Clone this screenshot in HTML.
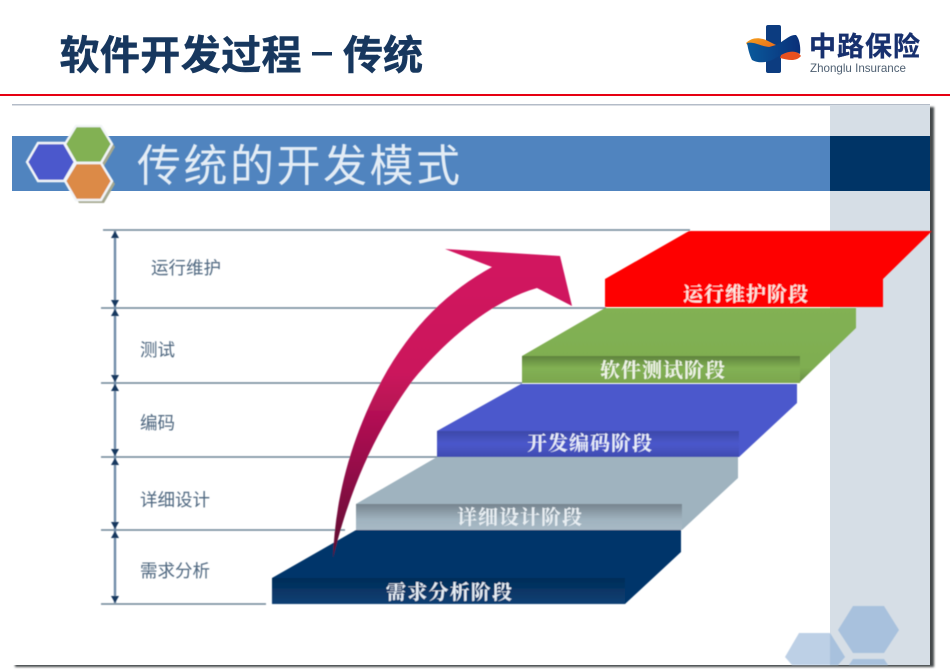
<!DOCTYPE html>
<html lang="zh">
<head>
<meta charset="utf-8">
<title>软件开发过程 – 传统</title>
<style>
html,body{margin:0;padding:0;background:#fff;width:950px;height:672px;overflow:hidden}
svg{display:block}
text{font-family:"Liberation Sans","Noto Sans CJK SC",sans-serif}
.serif text{font-family:"Liberation Serif","Noto Serif CJK SC",serif}
</style>
</head>
<body>
<svg xmlns="http://www.w3.org/2000/svg" width="950" height="672" viewBox="0 0 950 672">
<defs>
<filter id="soft" x="-2%" y="-2%" width="104%" height="104%"><feGaussianBlur stdDeviation="0.45"/></filter>
<filter id="sh" x="-5%" y="-5%" width="110%" height="110%"><feGaussianBlur stdDeviation="1.1"/></filter>
<linearGradient id="gGreen" x1="0" y1="0" x2="0" y2="1"><stop offset="0" stop-color="#5f833d"/><stop offset=".45" stop-color="#82b153"/><stop offset="1" stop-color="#7ca64f"/></linearGradient>
<linearGradient id="gBlue" x1="0" y1="0" x2="0" y2="1"><stop offset="0" stop-color="#3d49a8"/><stop offset=".5" stop-color="#4b58cc"/><stop offset="1" stop-color="#3f4bb0"/></linearGradient>
<linearGradient id="gGrey" x1="0" y1="0" x2="0" y2="1"><stop offset="0" stop-color="#76848e"/><stop offset=".6" stop-color="#a0b3bf"/><stop offset="1" stop-color="#a8b9c5"/></linearGradient>
<linearGradient id="gNavy" x1="0" y1="0" x2="0" y2="1"><stop offset="0" stop-color="#022c58"/><stop offset="1" stop-color="#0e4074"/></linearGradient>
<linearGradient id="gSideG" x1="0" y1="0" x2="0" y2="1"><stop offset="0" stop-color="#82b153"/><stop offset=".8" stop-color="#7fae51"/><stop offset="1" stop-color="#668c42"/></linearGradient>
<linearGradient id="gArrow" x1="0" y1="1" x2="0" y2="0"><stop offset="0" stop-color="#5c0a30"/><stop offset=".3" stop-color="#97104a"/><stop offset=".6" stop-color="#cb135c"/><stop offset="1" stop-color="#d2145f"/></linearGradient>
<linearGradient id="gLogo" x1="0" y1="0" x2="1" y2="0"><stop offset="0" stop-color="#0a5a9c"/><stop offset="1" stop-color="#0a2f78"/></linearGradient>
<linearGradient id="gOr" x1="0" y1="0" x2="1" y2="1"><stop offset="0" stop-color="#f5a21c"/><stop offset="1" stop-color="#e8601c"/></linearGradient>
</defs>

<!-- header -->
<text x="59.5" y="69" font-size="40" font-weight="700" fill="#17375e" stroke="#17375e" stroke-width=".5" textLength="242" lengthAdjust="spacing">软件开发过程</text>
<rect x="312" y="52" width="20" height="3.5" fill="#17375e"/>
<text x="343" y="69" font-size="40" font-weight="700" fill="#17375e" stroke="#17375e" stroke-width=".5">传统</text>

<!-- logo -->
<rect x="766" y="25" width="15" height="48" rx="2" fill="#0c3c80"/>
<path d="M746 43C752 37 760 37 768 41L776 45L752 52Z" fill="url(#gOr)"/>
<path d="M782 52C788 48 796 49 801 56C796 62 788 60 780 58Z" fill="#e8501f"/>
<path d="M747 43C754 41 762 47 770 47C780 46 788 34 796 35C799 38 801 46 800 54C790 48 782 55 772 60C762 64 756 62 752 60C749 54 748 48 747 43Z" fill="url(#gLogo)"/>
<text x="809" y="56" font-size="27" font-weight="700" fill="#17306e" stroke="#17306e" stroke-width=".3" textLength="111" lengthAdjust="spacing">中路保险</text>
<text x="810" y="72" font-size="12" fill="#4f6072" textLength="96" lengthAdjust="spacingAndGlyphs">Zhonglu Insurance</text>

<!-- rules -->
<rect x="0" y="94" width="950" height="2" fill="#e60012"/>

<!-- slide picture -->
<rect x="15" y="107" width="919" height="560" fill="#45484c" filter="url(#sh)"/>
<rect x="12" y="104" width="918" height="561" fill="#fff"/>
<rect x="12" y="104" width="918" height="1.5" fill="#b4bcc8"/>
<rect x="830" y="105" width="100" height="560" fill="#d6dee6"/>
<rect x="12" y="136" width="818" height="55" fill="#5084bf"/>
<rect x="830" y="136" width="100" height="55" fill="#003466"/>

<g filter="url(#soft)">
<!-- bottom-right hexagons -->
<polygon points="785,657 799,633 830,633 845,657 838,665 792,665" fill="#bdd0e6"/>
<polygon points="830,633 845,657 838,665 830,665" fill="#a8c1dd"/>
<polygon points="838,630 853,606 884,606 899,630 884,653 853,653" fill="#a8c1dd"/>
<polygon points="849,665 853,659 884,659 888,665" fill="#a8c1dd"/>

<!-- top-left hexagons -->
<polygon points="68,147 79,129 104,129 115,147 104,166 104,166 115,184 104,203 79,203 68,184 79,166" fill="#a5a88f"/>
<polygon points="27,162 38,143 64,143 75,162 64,181 38,181" fill="#4b58cc" stroke="#f2f5f8" stroke-width="2.4"/>
<polygon points="65,144 76,126 101,126 112,144 101,163 76,163" fill="#82b153" stroke="#f2f5f8" stroke-width="2.4"/>
<polygon points="65,181 76,163 101,163 112,181 101,200 76,200" fill="#dc8a46" stroke="#f2f5f8" stroke-width="2.4"/>
<text x="137" y="181" font-size="44" fill="#e3ecf5" textLength="323" lengthAdjust="spacing">传统的开发模式</text>

<!-- horizontal rules -->
<g stroke="#6d8396" stroke-width="1.6">
<line x1="103" y1="230" x2="690" y2="230"/>
<line x1="101" y1="308" x2="606" y2="308"/>
<line x1="101" y1="383" x2="522" y2="383"/>
<line x1="101" y1="457" x2="438" y2="457"/>
<line x1="101" y1="530" x2="345" y2="530"/>
<line x1="101" y1="604" x2="266" y2="604"/>
</g>

<!-- vertical dimension line -->
<line x1="115" y1="231" x2="115" y2="603" stroke="#6f8ca8" stroke-width="2.4"/>
<g fill="#17375e">
<polygon points="115,231 111,238 119,238"/>
<polygon points="115,307 111,300 119,300"/>
<polygon points="115,309 111,316 119,316"/>
<polygon points="115,382 111,375 119,375"/>
<polygon points="115,384 111,391 119,391"/>
<polygon points="115,456 111,449 119,449"/>
<polygon points="115,458 111,465 119,465"/>
<polygon points="115,529 111,522 119,522"/>
<polygon points="115,531 111,538 119,538"/>
<polygon points="115,603 111,596 119,596"/>
</g>

<!-- left labels -->
<g font-size="17.5" fill="#4f6880">
<text x="151" y="274">运行维护</text>
<text x="140" y="356">测试</text>
<text x="140" y="429">编码</text>
<text x="140" y="506">详细设计</text>
<text x="140" y="577">需求分析</text>
</g>

<!-- navy step -->
<polygon points="272,578 356,530 681,530 681,552 625,604 272,604" fill="#02366a"/>
<rect x="272" y="578" width="353" height="26" fill="url(#gNavy)"/>

<!-- grey step -->
<polygon points="356,504 437,457 738,457 738,478 682,530 682,504" fill="#9fb3bf"/>
<rect x="356" y="504" width="326" height="26" fill="url(#gGrey)"/>

<!-- blue step -->
<polygon points="437,431 521,384 797,384 797,403 739,457 739,431" fill="#4b58cc"/>
<rect x="437" y="431" width="302" height="26" fill="url(#gBlue)"/>

<!-- green step -->
<polygon points="522,356 605,308 856,308 856,328 799,383 799,356" fill="url(#gSideG)"/>
<rect x="522" y="356" width="278" height="27" fill="url(#gGreen)"/>

<!-- red step -->
<polygon points="605,279 689,231 932,231 883,279 883,307 605,307" fill="#fe0000"/>

<!-- step labels -->
<g class="serif" font-size="20" font-weight="700">
<text x="386" y="599" fill="#e6edf4" textLength="126" lengthAdjust="spacing">需求分析阶段</text>
<text x="457" y="524" fill="#e8eef2" textLength="125" lengthAdjust="spacing">详细设计阶段</text>
<text x="527" y="450" fill="#e8ecf8" textLength="125" lengthAdjust="spacing">开发编码阶段</text>
<text x="600" y="377" fill="#eef3e6" textLength="125" lengthAdjust="spacing">软件测试阶段</text>
<text x="683" y="301" fill="#fbe6e0" textLength="125" lengthAdjust="spacing">运行维护阶段</text>
</g>

<!-- big arrow -->
<path d="M333 558C335 500 350 440 382 380C412 325 450 290 492 267L445 249L560 256L572 306L537 288C495 300 450 335 413 380C380 425 352 480 333 558Z" fill="url(#gArrow)"/>
</g>
</svg>
</body>
</html>
